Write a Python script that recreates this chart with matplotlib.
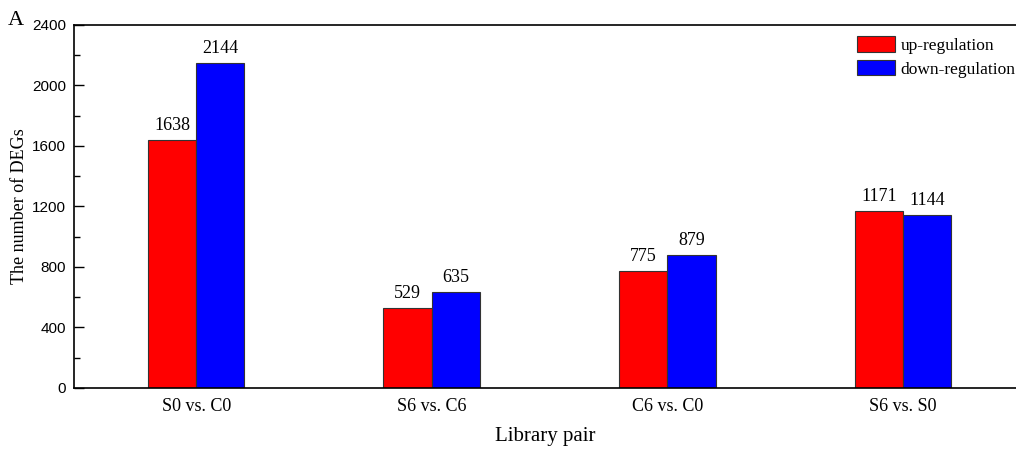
import matplotlib.pyplot as plt
import numpy as np

# DEG counts per library pair
pairs = ['S0 vs. C0', 'S6 vs. C6', 'C6 vs. C0', 'S6 vs. S0']
up = [1638, 529, 775, 1171]
down = [2144, 635, 879, 1144]

serif = 'Liberation Serif'
sans = 'Liberation Sans'

fig = plt.figure(figsize=(10.16, 4.5), dpi=100)
ax = fig.add_axes([0.073, 0.138, 0.927, 0.807])

x = np.arange(len(pairs))
w = 0.205
b1 = ax.bar(x - w / 2, up, w, color='#ff0000', edgecolor='#333333', linewidth=0.8,
            label='up-regulation')
b2 = ax.bar(x + w / 2, down, w, color='#0000ff', edgecolor='#333333', linewidth=0.8,
            label='down-regulation')

# value labels above the bars
for bars, vals in ((b1, up), (b2, down)):
    for r, v in zip(bars, vals):
        ax.text(r.get_x() + r.get_width() / 2, v + 40, str(v), ha='center', va='bottom',
                fontsize=13, family=serif)

ax.set_xlim(-0.518, 3.48)
ax.set_ylim(0, 2400)
ax.set_yticks(np.arange(0, 2401, 400))
ax.set_yticks(np.arange(0, 2401, 200), minor=True)
ax.set_xticks(x)
ax.set_xticklabels(pairs, fontsize=13, family=serif)
ax.tick_params(axis='x', length=0, pad=7)
ax.tick_params(axis='y', which='both', direction='in', labelsize=11, width=1)
ax.tick_params(axis='y', which='major', length=7, pad=6)
ax.tick_params(axis='y', which='minor', length=4)
for t in ax.get_yticklabels():
    t.set_family(sans)

for s in ['left', 'bottom', 'top']:
    ax.spines[s].set_linewidth(1.2)
ax.spines['right'].set_visible(False)

ax.set_xlabel('Library pair', fontsize=15, family=serif, labelpad=9)
ax.set_ylabel('The number of DEGs', fontsize=13, family=serif, labelpad=3)

leg = ax.legend(loc='upper right', bbox_to_anchor=(1.016, 1.012), frameon=False,
                prop={'family': serif, 'size': 12.5}, handlelength=2.2, handleheight=1.0,
                handletextpad=0.3, labelspacing=0.35)

fig.text(0.008, 0.945, 'A', fontsize=16, family=serif)

fig.savefig('out.png', dpi=100)
